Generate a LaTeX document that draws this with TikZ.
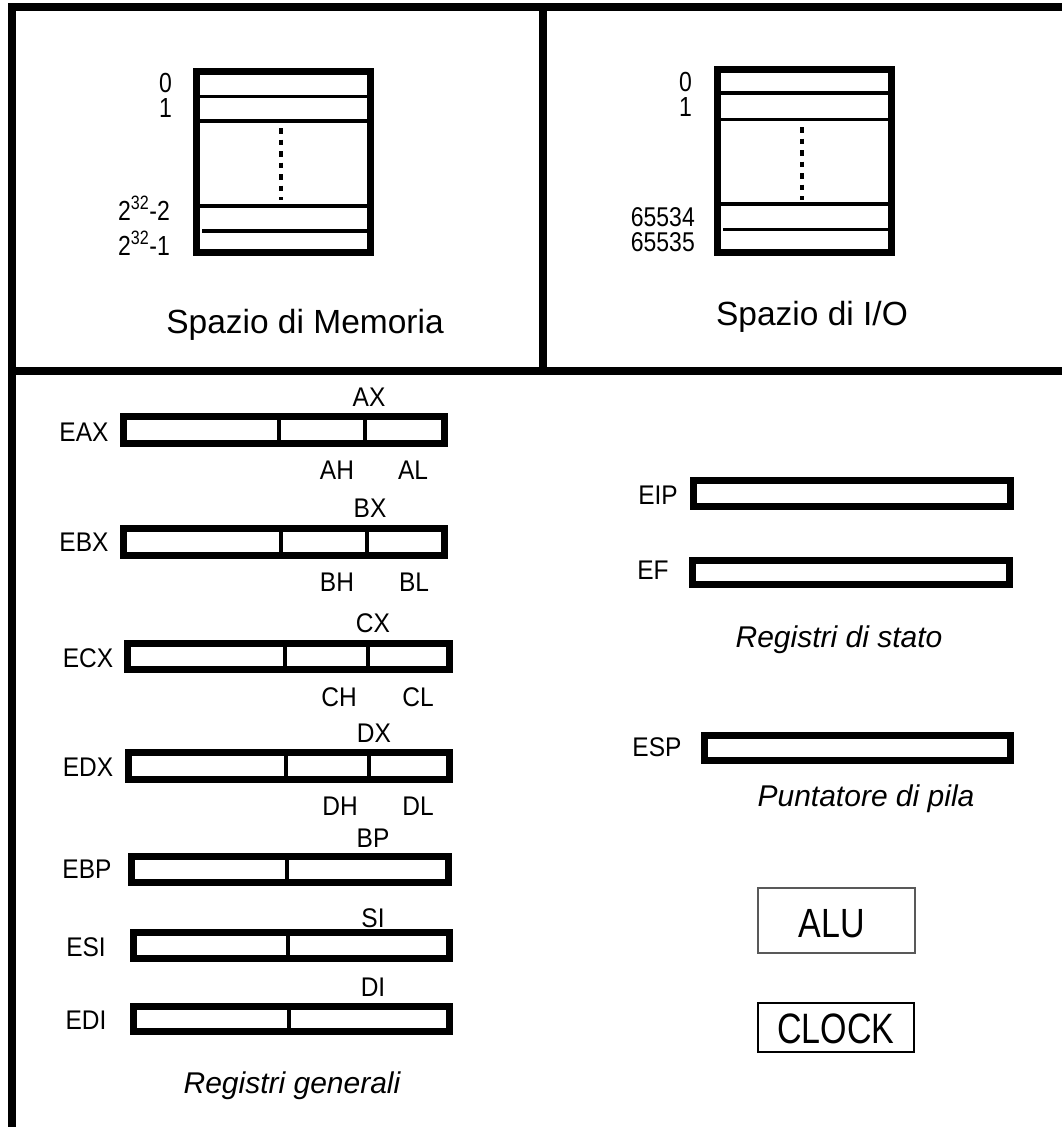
\documentclass[tikz,border=0pt]{standalone}
\usepackage{fontspec}
\setmainfont{Liberation Sans}
\usepackage{graphicx}
\newcommand{\vstr}[2]{\scalebox{1}[#1]{#2}}
\newcommand{\rl}[1]{\scalebox{1}[1.1]{#1}}
\begin{document}
\begin{tikzpicture}[x=1pt,y=-1pt,
  frame/.style={line width=8pt},
  box/.style={line width=7pt},
  cell/.style={line width=3.5pt},
  dotline/.style={line width=4pt,dash pattern=on 5.5pt off 6pt},
  divider/.style={line width=3.5pt},
  lbl/.style={inner sep=0pt,anchor=base,font=\fontsize{24.5}{28}\selectfont},
  addr/.style={inner sep=0pt,anchor=base east,font=\fontsize{23}{26}\selectfont},
  caption/.style={inner sep=0pt,anchor=base,font=\fontsize{30}{34}\selectfont\itshape},
  title/.style={inner sep=0pt,anchor=base,font=\fontsize{33.5}{38}\selectfont},
  unit/.style={inner sep=0pt,anchor=base,font=\fontsize{34}{38}\selectfont}
]
\useasboundingbox (0,0) rectangle (1062,1127);
% outer frame
\draw[frame,line join=miter] (1062,7) -- (12,7) -- (12,1127);
\draw[frame] (12,371) -- (1062,371);
\draw[frame] (543,7) -- (543,371);

% memory space
\draw[box] (196.5,71.5) rectangle (370.5,252.5);
\draw[cell] (196.5,96.5) -- (370.5,96.5);
\draw[cell] (196.5,121) -- (370.5,121);
\draw[cell] (196.5,206) -- (370.5,206);
\draw[cell] (202,231) -- (370.5,231);
\draw[dotline] (280.5,128) -- (280.5,200);
\node[addr] (m0) at (172,92) {\vstr{1.2}{0}};
\node[addr] (m1) at (172,117) {\vstr{1.2}{1}};
\node[addr] (m2) at (170,220) {\vstr{1.2}{2\textsuperscript{32}-2}};
\node[addr] (m3) at (170,255) {\vstr{1.2}{2\textsuperscript{32}-1}};
\node[title] (memt) at (305,333) {Spazio di Memoria};

% I/O space
\draw[box] (717.5,69.5) rectangle (891.5,252.5);
\draw[cell] (717.5,93) -- (891.5,93);
\draw[cell] (717.5,119.5) -- (891.5,119.5);
\draw[cell] (717.5,204) -- (891.5,204);
\draw[cell] (723,229.5) -- (891.5,229.5);
\draw[dotline] (801.5,127) -- (801.5,200);
\node[addr] (i0) at (692,91) {\vstr{1.2}{0}};
\node[addr] (i1) at (692,116) {\vstr{1.2}{1}};
\node[addr] (i2) at (695,226) {\vstr{1.18}{65534}};
\node[addr] (i3) at (695,251) {\vstr{1.18}{65535}};
\node[title] (iot) at (812,325) {Spazio di I/O};

% general registers
\draw[box] (123.5,416.5) rectangle (444.5,443.5);
\draw[divider] (279,416.5) -- (279,443.5);
\draw[divider] (365,416.5) -- (365,443.5);
\node[lbl] (eax) at (84,441) {\rl{EAX}};
\node[lbl] (ax) at (369,406) {\rl{AX}};
\node[lbl] (ah) at (337,479) {\rl{AH}};
\node[lbl] (al) at (413,479) {\rl{AL}};

\draw[box] (123.5,528.5) rectangle (444.5,555.5);
\draw[divider] (281,528.5) -- (281,555.5);
\draw[divider] (367,528.5) -- (367,555.5);
\node[lbl] (ebx) at (84,551) {\rl{EBX}};
\node[lbl] (bx) at (370,517) {\rl{BX}};
\node[lbl] (bh) at (337,591) {\rl{BH}};
\node[lbl] (bl) at (414,591) {\rl{BL}};

\draw[box] (127.5,643.5) rectangle (449.5,669.5);
\draw[divider] (285,643.5) -- (285,669.5);
\draw[divider] (368,643.5) -- (368,669.5);
\node[lbl] (ecx) at (88,667) {\rl{ECX}};
\node[lbl] (cx) at (373,632) {\rl{CX}};
\node[lbl] (ch) at (339,706) {\rl{CH}};
\node[lbl] (cl) at (418,706) {\rl{CL}};

\draw[box] (128.5,752.5) rectangle (449.5,779.5);
\draw[divider] (286,752.5) -- (286,779.5);
\draw[divider] (369,752.5) -- (369,779.5);
\node[lbl] (edx) at (88,776) {\rl{EDX}};
\node[lbl] (dx) at (374,742) {\rl{DX}};
\node[lbl] (dh) at (340,815) {\rl{DH}};
\node[lbl] (dl) at (418,815) {\rl{DL}};

\draw[box] (131.5,856.5) rectangle (448.5,882.5);
\draw[divider] (287,856.5) -- (287,882.5);
\node[lbl] (ebp) at (87,878) {\rl{EBP}};
\node[lbl] (bp) at (373,847) {\rl{BP}};

\draw[box] (133.5,932.5) rectangle (449.5,958.5);
\draw[divider] (288,932.5) -- (288,958.5);
\node[lbl] (esi) at (86,956) {\rl{ESI}};
\node[lbl] (si) at (373,927) {\rl{SI}};

\draw[box] (133.5,1006.5) rectangle (449.5,1031.5);
\draw[divider] (289,1006.5) -- (289,1031.5);
\node[lbl] (edi) at (86,1029) {\rl{EDI}};
\node[lbl] (di) at (373,996) {\rl{DI}};

\node[caption] (regg) at (292,1093) {Registri generali};

% status registers
\draw[box] (693.5,480.5) rectangle (1010.5,506.5);
\node[lbl] (eip) at (658,504) {\rl{EIP}};
\draw[box] (692.5,560.5) rectangle (1009.5,584.5);
\node[lbl] (ef) at (653,579) {\rl{EF}};
\node[caption] (regs) at (839,647) {Registri di stato};

\draw[box] (704.5,735.5) rectangle (1010.5,760.5);
\node[lbl] (esp) at (657,756) {\rl{ESP}};
\node[caption] (punt) at (866,806) {Puntatore di pila};

% ALU and CLOCK
\node[draw=black!65,line width=1.5pt,minimum width=157pt,minimum height=65pt,inner sep=0pt] (alubox) at (836.5,920.5) {};
\node[unit] (alu) at (832,937) {\vstr{1.2}{ALU}};
\node[draw=black,line width=2.5pt,minimum width=156pt,minimum height=49pt,inner sep=0pt] (clkbox) at (836,1027.5) {};
\node[unit] (clk) at (836,1043) {\vstr{1.25}{CLOCK}};
\end{tikzpicture}
\end{document}
